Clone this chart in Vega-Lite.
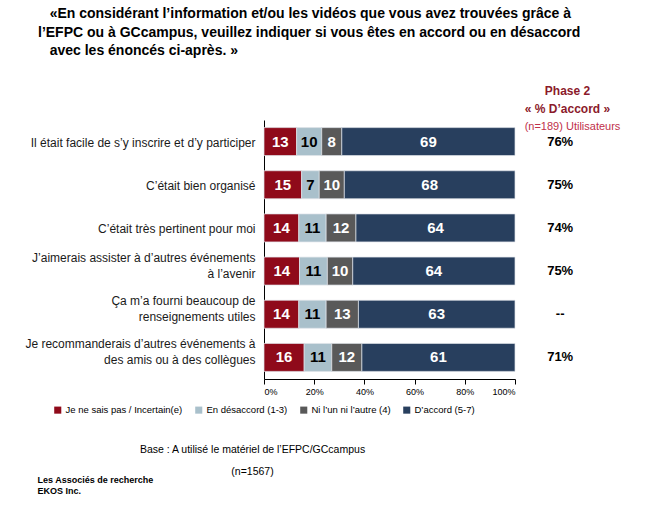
{
  "$schema": "https://vega.github.io/schema/vega-lite/v6.json",
  "width": 251,
  "height": 259,
  "autosize": "none",
  "padding": {"left": 264, "top": 120, "right": 135, "bottom": 127},
  "background": "white",
  "config": {
    "font": "Liberation Sans",
    "view": {"stroke": null}
  },
  "title": {
    "text": ["\u200b\u00a0\u00a0\u00a0«En considérant l’information et/ou les vidéos que vous avez trouvées grâce à", "l’EFPC ou à GCcampus, veuillez indiquer si vous êtes en accord ou en désaccord", "\u200b\u00a0\u00a0\u00a0avec les énoncés ci-après. »"],
    "anchor": "start",
    "frame": "group",
    "dx": -226,
    "dy": -16,
    "fontSize": 14,
    "fontWeight": "bold",
    "color": "#000000",
    "lineHeight": 18.5,
    "baseline": "top",
    "offset": 10
  },
  "datasets": {
    "bars": [
      {"statement": "Il était facile de s’y inscrire et d’y participer", "cat": "Je ne sais pas / Incertain(e)", "k": 1, "pct": 13},
      {"statement": "Il était facile de s’y inscrire et d’y participer", "cat": "En désaccord (1-3)", "k": 2, "pct": 10},
      {"statement": "Il était facile de s’y inscrire et d’y participer", "cat": "Ni l’un ni l’autre (4)", "k": 3, "pct": 8},
      {"statement": "Il était facile de s’y inscrire et d’y participer", "cat": "D’accord (5-7)", "k": 4, "pct": 69},
      {"statement": "C’était bien organisé", "cat": "Je ne sais pas / Incertain(e)", "k": 1, "pct": 15},
      {"statement": "C’était bien organisé", "cat": "En désaccord (1-3)", "k": 2, "pct": 7},
      {"statement": "C’était bien organisé", "cat": "Ni l’un ni l’autre (4)", "k": 3, "pct": 10},
      {"statement": "C’était bien organisé", "cat": "D’accord (5-7)", "k": 4, "pct": 68},
      {"statement": "C’était très pertinent pour moi", "cat": "Je ne sais pas / Incertain(e)", "k": 1, "pct": 14},
      {"statement": "C’était très pertinent pour moi", "cat": "En désaccord (1-3)", "k": 2, "pct": 11},
      {"statement": "C’était très pertinent pour moi", "cat": "Ni l’un ni l’autre (4)", "k": 3, "pct": 12},
      {"statement": "C’était très pertinent pour moi", "cat": "D’accord (5-7)", "k": 4, "pct": 64},
      {"statement": "J’aimerais assister à d’autres événements|à l’avenir", "cat": "Je ne sais pas / Incertain(e)", "k": 1, "pct": 14},
      {"statement": "J’aimerais assister à d’autres événements|à l’avenir", "cat": "En désaccord (1-3)", "k": 2, "pct": 11},
      {"statement": "J’aimerais assister à d’autres événements|à l’avenir", "cat": "Ni l’un ni l’autre (4)", "k": 3, "pct": 10},
      {"statement": "J’aimerais assister à d’autres événements|à l’avenir", "cat": "D’accord (5-7)", "k": 4, "pct": 64},
      {"statement": "Ça m’a fourni beaucoup de|renseignements utiles", "cat": "Je ne sais pas / Incertain(e)", "k": 1, "pct": 14},
      {"statement": "Ça m’a fourni beaucoup de|renseignements utiles", "cat": "En désaccord (1-3)", "k": 2, "pct": 11},
      {"statement": "Ça m’a fourni beaucoup de|renseignements utiles", "cat": "Ni l’un ni l’autre (4)", "k": 3, "pct": 13},
      {"statement": "Ça m’a fourni beaucoup de|renseignements utiles", "cat": "D’accord (5-7)", "k": 4, "pct": 63},
      {"statement": "Je recommanderais d’autres événements à|des amis ou à des collègues", "cat": "Je ne sais pas / Incertain(e)", "k": 1, "pct": 16},
      {"statement": "Je recommanderais d’autres événements à|des amis ou à des collègues", "cat": "En désaccord (1-3)", "k": 2, "pct": 11},
      {"statement": "Je recommanderais d’autres événements à|des amis ou à des collègues", "cat": "Ni l’un ni l’autre (4)", "k": 3, "pct": 12},
      {"statement": "Je recommanderais d’autres événements à|des amis ou à des collègues", "cat": "D’accord (5-7)", "k": 4, "pct": 61}
    ],
    "phase2": [
      {"statement": "Il était facile de s’y inscrire et d’y participer", "value": "76%"},
      {"statement": "C’était bien organisé", "value": "75%"},
      {"statement": "C’était très pertinent pour moi", "value": "74%"},
      {"statement": "J’aimerais assister à d’autres événements|à l’avenir", "value": "75%"},
      {"statement": "Ça m’a fourni beaucoup de|renseignements utiles", "value": "--"},
      {"statement": "Je recommanderais d’autres événements à|des amis ou à des collègues", "value": "71%"}
    ]
  },
  "layer": [
    {
      "data": {"name": "bars"},
      "mark": {"type": "bar", "stroke": "#dfe4ea", "strokeWidth": 0.7},
      "encoding": {
        "y": {
          "field": "statement",
          "type": "nominal",
          "scale": {
            "domain": ["Il était facile de s’y inscrire et d’y participer", "C’était bien organisé", "C’était très pertinent pour moi", "J’aimerais assister à d’autres événements|à l’avenir", "Ça m’a fourni beaucoup de|renseignements utiles", "Je recommanderais d’autres événements à|des amis ou à des collègues"],
            "paddingInner": 0.352,
            "paddingOuter": 0.176
          },
          "axis": {
            "orient": "left",
            "labelExpr": "split(datum.label, '|')",
            "labelFontSize": 12,
            "labelColor": "#1a1a1a",
            "labelPadding": 9,
            "labelLineHeight": 15.5,
            "labelLimit": 260,
            "labelOffset": {"condition": {"test": "indexof(datum.value, '|') >= 0", "value": -13}, "value": 1},
            "ticks": false,
            "domain": true,
            "domainColor": "#000000",
            "domainWidth": 1,
            "title": ["Les Associés de recherche", "EKOS Inc."],
            "titleAngle": 0,
            "titleAlign": "left",
            "titleBaseline": "alphabetic",
            "titleX": -227,
            "titleY": 362,
            "titleFontSize": 9,
            "titleFontWeight": "bold",
            "titleColor": "#000000",
            "titleLineHeight": 11.5
          }
        },
        "x": {
          "field": "pct",
          "type": "quantitative",
          "stack": "normalize",
          "scale": {"domain": [0, 1], "nice": false},
          "axis": {
            "orient": "bottom",
            "values": [0, 0.2, 0.4, 0.6, 0.8, 1],
            "format": ".0%",
            "labelFlush": true,
            "labelFontSize": 9,
            "labelColor": "#000000",
            "labelPadding": 3,
            "grid": false,
            "ticks": true,
            "tickSize": 5,
            "tickColor": "#000000",
            "domainColor": "#000000",
            "title": ["Base : A utilisé le matériel de l’EFPC/GCcampus", "(n=1567)"],
            "titleFontSize": 10.5,
            "titleFontWeight": "normal",
            "titleColor": "#000000",
            "titleX": -12,
            "titleY": 73,
            "titleAlign": "center",
            "titleBaseline": "alphabetic",
            "titleLineHeight": 22
          }
        },
        "color": {
          "field": "cat",
          "type": "nominal",
          "scale": {
            "domain": ["Je ne sais pas / Incertain(e)", "En désaccord (1-3)", "Ni l’un ni l’autre (4)", "D’accord (5-7)"],
            "range": ["#8f0a1a", "#a9c0cb", "#595959", "#283f5e"]
          },
          "legend": {
            "orient": "none",
            "direction": "horizontal",
            "legendX": -211,
            "legendY": 285,
            "title": null,
            "symbolType": "square",
            "symbolSize": 50,
            "symbolStrokeWidth": 0,
            "labelFontSize": 9.5,
            "labelColor": "#000000",
            "labelOffset": 3,
            "columnPadding": 11,
            "labelLimit": 250
          }
        },
        "order": {"field": "k", "type": "quantitative"}
      }
    },
    {
      "data": {"name": "bars"},
      "transform": [
        {"stack": "pct", "groupby": ["statement"], "offset": "normalize", "sort": [{"field": "k", "order": "ascending"}], "as": ["x0", "x1"]},
        {"calculate": "(datum.x0 + datum.x1) / 2", "as": "mid"}
      ],
      "mark": {"type": "text", "fontSize": 15, "fontWeight": "bold", "baseline": "middle", "align": "center"},
      "encoding": {
        "y": {"field": "statement", "type": "nominal", "axis": null},
        "x": {"field": "mid", "type": "quantitative", "axis": null},
        "text": {"field": "pct", "type": "quantitative"},
        "color": {
          "field": "cat",
          "type": "nominal",
          "scale": {
            "domain": ["Je ne sais pas / Incertain(e)", "En désaccord (1-3)", "Ni l’un ni l’autre (4)", "D’accord (5-7)"],
            "range": ["#ffffff", "#000000", "#ffffff", "#ffffff"]
          },
          "legend": null
        }
      }
    },
    {
      "data": {"name": "phase2"},
      "mark": {"type": "text", "fontSize": 13, "fontWeight": "bold", "baseline": "middle", "align": "center", "color": "#000000"},
      "encoding": {
        "y": {
          "field": "statement",
          "type": "nominal",
          "axis": {
            "orient": "right",
            "labels": false,
            "ticks": false,
            "domain": false,
            "title": ["Phase 2", "« % D’accord »"],
            "titleAngle": 0,
            "titleAlign": "center",
            "titleBaseline": "alphabetic",
            "titleX": 52,
            "titleY": -26,
            "titleFontSize": 12,
            "titleFontWeight": "bold",
            "titleColor": "#8b1a2b",
            "titleLineHeight": 18
          }
        },
        "x": {
          "datum": 1.18,
          "type": "quantitative",
          "axis": {
            "orient": "top",
            "labels": false,
            "ticks": false,
            "domain": false,
            "grid": false,
            "title": "(n=189) Utilisateurs",
            "titleAlign": "center",
            "titleBaseline": "alphabetic",
            "titleX": 308,
            "titleY": 9,
            "titleFontSize": 11,
            "titleFontWeight": "normal",
            "titleColor": "#c0304a"
          }
        },
        "text": {"field": "value", "type": "nominal"}
      }
    }
  ],
  "resolve": {
    "scale": {"color": "independent"},
    "axis": {"x": "independent", "y": "independent"}
  }
}
